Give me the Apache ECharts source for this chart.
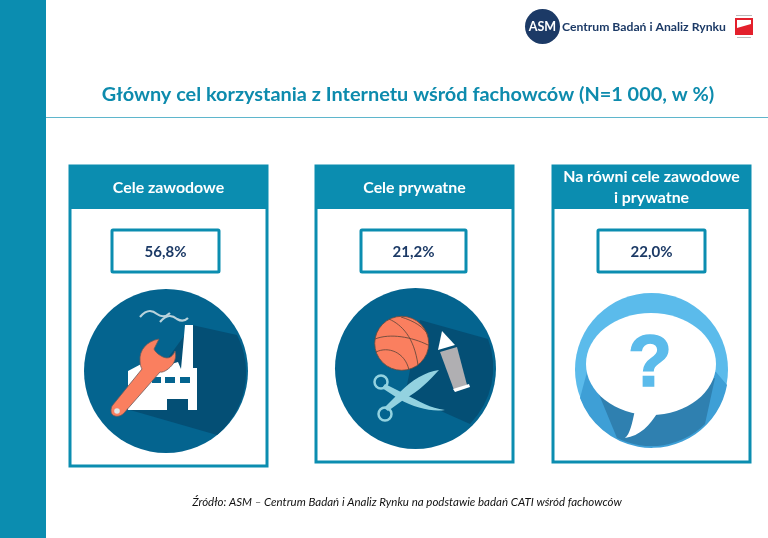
<!DOCTYPE html>
<html>
<head>
<meta charset="utf-8">
<style>html,body{margin:0;padding:0;background:#fff}#container{width:768px;height:538px}</style>
<script src="https://cdn.jsdelivr.net/npm/echarts@6/dist/echarts.min.js"></script>
</head>
<body>
<div id="container"></div>
<script>
var categories = ['Cele zawodowe', 'Cele prywatne', 'Na równi cele zawodowe\ni prywatne'];
var shares = [56.8, 21.2, 22.0];
var chartTitle = 'Główny cel korzystania z Internetu wśród fachowców (N=1 000, w %)';
var sourceNote = 'Źródło: ASM – Centrum Badań i Analiz Rynku na podstawie badań CATI wśród fachowców';
var logoName = 'Centrum Badań i Analiz Rynku';

var teal = '#0b8db0';
var navy = '#1c3a66';
var coral = '#fa7f5f';
var font = 'Lato, "Open Sans", sans-serif';

// panel frames: left, right, bottom, value box left and right
var frames = [
    [70, 267, 466, 112, 219],
    [316, 513, 462, 361, 466],
    [553, 750, 462, 598, 705]
];

// the graphic component has no plain path type, so each outline gets its own shape class
var shapeCount = 0;
function shape(d, fill, extra) {
    var name = 'iconPath' + (shapeCount++);
    echarts.graphic.registerShape(name, echarts.graphic.extendPath(d));
    var el = {type: name, style: {fill: fill}};
    if (extra) {
        for (var k in extra) el.style[k] = extra[k];
    }
    return el;
}

function disc(cx, cy, r, fill, extra) {
    var el = {type: 'circle', shape: {cx: cx, cy: cy, r: r}, style: {fill: fill}};
    if (extra) {
        for (var k in extra) el.style[k] = extra[k];
    }
    return el;
}

function panels() {
    var out = [];
    frames.forEach(function (f, i) {
        out.push({type: 'rect', shape: {x: f[0], y: 166, width: f[1] - f[0], height: f[2] - 166},
            style: {fill: '#fff', stroke: teal, lineWidth: 3}});
        out.push({type: 'rect', shape: {x: f[0] - 1, y: 165, width: f[1] - f[0] + 2, height: 44, r: [2, 2, 0, 0]},
            style: {fill: teal}});
        out.push({type: 'text', x: (f[0] + f[1]) / 2, y: 187.5,
            style: {text: categories[i], fill: '#fff', font: 'bold 15.9px ' + font, lineHeight: 21,
                align: 'center', verticalAlign: 'middle'}});
        out.push({type: 'rect', shape: {x: f[3], y: 230, width: f[4] - f[3], height: 42, r: 1},
            style: {fill: '#fff', stroke: teal, lineWidth: 3}});
        out.push({type: 'text', x: (f[3] + f[4]) / 2, y: 252,
            style: {text: shares[i].toFixed(1).replace('.', ',') + '%', fill: navy, font: 'bold 15px ' + font,
                align: 'center', verticalAlign: 'middle'}});
    });
    return out;
}

function factoryIcon() {
    var blue = '#04648f';
    return [
        disc(166, 371, 82, blue),
        // long shadow
        shape('M192 325 L237 335 A82 82 0 0 1 217 435 L130 410 Z', '#044f75'),
        // smoke
        shape('M140 317 C147 309 152 310 157 314 C162 318 167 316 170 313', 'none', {stroke: '#b9d3dc', lineWidth: 2.2}),
        shape('M160 322 C167 314 172 315 177 319 C182 322 186 320 188 318', 'none', {stroke: '#b9d3dc', lineWidth: 2.2}),
        // factory
        shape('M185 325 L193 325 L193 368 L197 368 L197 410 L188 410 L188 399 L167 399 L167 410 L128 410 L128 371 L145 362 L148 371 L178 362 L181 369 Z', '#fff'),
        {type: 'rect', shape: {x: 152, y: 377, width: 9, height: 6}, style: {fill: blue}},
        {type: 'rect', shape: {x: 165, y: 377, width: 10, height: 6}, style: {fill: blue}},
        {type: 'rect', shape: {x: 180, y: 377, width: 10, height: 6}, style: {fill: blue}},
        // wrench
        shape('M159 339 C147 341 139 350 140 361 C140 365 141 367 142 369 L112 406 C110 411 111 415 115 416 C119 417 122 415 124 413 L160 372 C164 373 170 368 173 364 C176 359 176 355 175 351 C172 358 168 359 163 357 C159 355 155 352 154 349 Z', coral, {stroke: '#6d5a5a', lineWidth: 0.8}),
        disc(117, 411, 2.8, '#dfe9ec')
    ];
}

function hobbyIcon() {
    var pale = '#93d2e0';
    return [
        disc(415.5, 368.5, 80.5, '#04648f'),
        shape('M420 320 L488 339 A80.5 80.5 0 0 1 470 424 L405 395 Z', '#044f75'),
        // ball
        disc(401.7, 343.3, 27, coral, {stroke: '#6a4a3c', lineWidth: 0.8}),
        shape('M375 339 C390 333 412 337 428 345', 'none', {stroke: '#6a4a3c', lineWidth: 0.9}),
        shape('M389 319 C402 325 414 337 418 365', 'none', {stroke: '#6a4a3c', lineWidth: 0.9}),
        shape('M376 352 C388 346 405 352 409 370', 'none', {stroke: '#6a4a3c', lineWidth: 0.9}),
        shape('M401 317 C414 321 424 327 428 335', 'none', {stroke: '#6a4a3c', lineWidth: 0.9}),
        // pencil
        shape('M442 331 L438 350 L455 345 Z', '#fff'),
        shape('M440 352 L457 347 L467 385 L454 390 Z', '#b0afb2'),
        shape('M453 389 L469 384 L470 387 L455 392 Z', '#fff'),
        // scissors
        shape('M439 370 C425 372 412 380 400 392 L384 408 L388 411 L406 398 C418 392 430 380 439 370 Z', pale),
        shape('M445 410 C430 408 420 402 405 394 L393 388 L385 384 L382 388 L399 399 C415 408 432 412 445 410 Z', pale),
        disc(381, 382, 6.5, 'none', {stroke: pale, lineWidth: 2.5}),
        disc(385, 414, 6.5, 'none', {stroke: pale, lineWidth: 2.5})
    ];
}

function bubbleIcon() {
    var sky = '#5bbbeb';
    return [
        disc(651.5, 369.5, 76.5, sky),
        // darker lower part under the bubble
        shape('M587 372 L716 372 L727 385 A76.5 76.5 0 0 1 580 398 Z', '#3e9fd6'),
        shape('M598 392 L715 378 L705 424 A76.5 76.5 0 0 1 617 438 Z', '#2f80b0'),
        // bubble
        {type: 'ellipse', shape: {cx: 651, cy: 364, rx: 65, ry: 51}, style: {fill: '#fff'}},
        shape('M635 410 C632 424 630 434 625 438 C640 436 650 425 658 412 Z', '#fff'),
        {type: 'text', x: 650, y: 366,
            style: {text: '?', fill: sky, stroke: sky, lineWidth: 1.5, font: 'bold 72px "Liberation Sans", sans-serif',
                align: 'center', verticalAlign: 'middle'}}
    ];
}

function header() {
    return [
        {type: 'rect', shape: {x: 0, y: 0, width: 46, height: 538}, style: {fill: teal}},
        {type: 'rect', shape: {x: 46, y: 117, width: 722, height: 1}, style: {fill: '#5fb6cc'}},
        disc(542.5, 26.5, 17.5, navy),
        {type: 'text', x: 542.5, y: 27,
            style: {text: 'ASM', fill: '#fff', font: 'bold 12.5px ' + font, align: 'center', verticalAlign: 'middle'}},
        {type: 'text', x: 562, y: 27,
            style: {text: logoName, fill: navy, font: 'bold 12.2px ' + font, verticalAlign: 'middle'}},
        {type: 'rect', shape: {x: 736, y: 15, width: 16, height: 1}, style: {fill: '#bbb'}},
        {type: 'rect', shape: {x: 735, y: 18, width: 18, height: 17}, style: {fill: '#e3202c'}},
        shape('M737 20 L751 20 L751 24 L737 28 Z', '#fff'),
        {type: 'rect', shape: {x: 737, y: 37, width: 14, height: 1}, style: {fill: '#bbb'}},
        {type: 'text', x: 407, y: 502,
            style: {text: sourceNote, fill: '#111', font: 'italic 11.5px ' + font,
                align: 'center', verticalAlign: 'middle'}}
    ];
}

var myChart = echarts.init(document.getElementById('container'));
myChart.setOption({
    backgroundColor: '#fff',
    animation: false,
    title: {
        text: chartTitle,
        left: 403,
        top: 80,
        textAlign: 'center',
        textStyle: {color: '#0d8bad', fontFamily: 'Lato, "Open Sans", sans-serif', fontWeight: 'bold', fontSize: 19.9}
    },
    graphic: {
        elements: header().concat(panels(), factoryIcon(), hobbyIcon(), bubbleIcon())
    }
});
</script>
</body>
</html>
